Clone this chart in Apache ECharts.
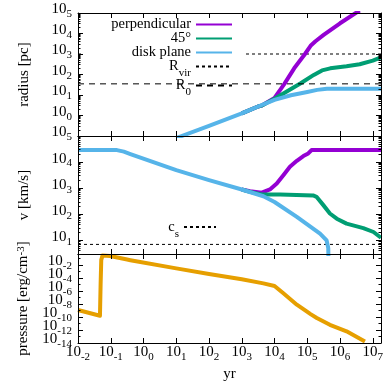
<!DOCTYPE html>
<html><head><meta charset="utf-8">
<script src="https://cdn.jsdelivr.net/npm/echarts@6/dist/echarts.min.js"></script>
<style>html,body{margin:0;padding:0;background:#fff}#c{width:390px;height:390px}</style>
</head><body><div id="c"></div>
<script>
// ---------- data (time in yr) ----------
// radius panel [pc]
const tPerpR  = [1000, 3160, 3980, 1e4, 2e4, 3.98e4, 8.51e4, 1.26e5, 1.78e5, 3.16e5, 1e6, 3.16e6, 3.98e6];
const rPerp   = [1.26, 2.75, 3.02, 7.24, 34.7, 200, 1000, 2510, 4170, 8510, 31600, 105000, 132000];
const tGreenR = [1000, 3160, 3980, 1e4, 2.51e4, 6.31e4, 1.58e5, 2.82e5, 5.01e5, 1.58e6, 3.98e6, 1e7, 1.78e7];
const rGreen  = [1.26, 2.75, 3.02, 6.61, 15.8, 37.2, 95.5, 158, 200, 251, 316, 479, 692];
const tDiskR  = [10, 100, 1000, 3160, 1e4, 3.16e4, 1e5, 2e5, 3.98e5, 1.78e7];
const rDisk   = [0.0794, 0.316, 1.26, 2.75, 5.75, 9.77, 14.1, 17.8, 20.4, 20.4];
const rVir = 1000;
const r0 = 35;
// velocity panel [km/s]
const tPerpV  = [1000, 1780, 4070, 7240, 1.17e4, 1.86e4, 2.95e4, 4.79e4, 7.59e4, 1.07e5, 1.35e5, 1.78e7];
const vPerp   = [891, 767, 676, 891, 1510, 3160, 6610, 11200, 17000, 21400, 28800, 28800];
const tGreenV = [1000, 1780, 4070, 1.48e4, 1.51e5, 1.91e5, 3.09e5, 4.9e5, 7.94e5, 1.58e6, 5.13e6, 1.05e7, 1.78e7];
const vGreen  = [891, 724, 575, 575, 525, 468, 224, 107, 67.6, 43.7, 29.5, 20.9, 12.6];
const tDiskV  = [0.01, 0.155, 0.251, 0.398, 10, 100, 1000, 4570, 1e4, 4.79e4, 2.45e5, 3.89e5, 4.37e5, 4.47e5];
const vDisk   = [28800, 28800, 25100, 20400, 4900, 2040, 891, 490, 295, 79.4, 18.2, 10, 5.01, 1];
const cs = 7;
// pressure panel [erg/cm^-3]
const tPres = [0.01, 0.0468, 0.049, 0.0513, 0.056, 0.0603, 0.0955, 0.316, 0.398, 10, 100, 1000, 4570, 1e4, 1.86e4, 4.79e4, 9.55e4, 1.26e5, 1.95e5, 4.9e5, 1.58e6, 5.75e6];
const pres  = [1.2e-9, 1.58e-10, 1e-5, 0.063, 0.282, 0.347, 0.24, 0.0708, 0.0562, 3.09e-3, 4.17e-4, 6.31e-5, 1.51e-5, 5.89e-6, 4.47e-7, 7.94e-9, 7.24e-10, 2.82e-10, 7.08e-11, 6.31e-12, 6.31e-13, 1.74e-14];
// axis tick exponents
const xTickExp = [-2, -1, 0, 1, 2, 3, 4, 5, 6, 7];
const rTickExp = [-1, 0, 1, 2, 3, 4, 5];
const rLabelExp = [0, 1, 2, 3, 4, 5];
const vTickExp = [1, 2, 3, 4, 5];
const pTickExp = [-14, -12, -10, -8, -6, -4, -2, 0];
const pLabelExpA = [-14, -10, -6, -2];
const pLabelExpB = [-12, -8, -4];

const XMIN = 0.01, XMAX = 1.78e7;
const FONT = 'Liberation Serif';
const C_PERP = '#9400d3', C_45 = '#009e73', C_DISK = '#56b4e9', C_P = '#e69f00';

function pairs(t, v) { return t.map((x, i) => [x, v[i]]); }
function logMinor(lo, hi) {
  const out = [];
  for (let n = Math.floor(lo); n < hi; n++) for (let k = 2; k <= 9; k++) out.push(n + Math.log10(k));
  return out;
}
function oddMinor(lo, hi) { const o = []; for (let n = lo; n <= hi; n++) if (n % 2 !== 0) o.push(n); return o; }

const labRich = {
  b: { fontFamily: FONT, fontSize: 15, color: '#000', lineHeight: 8, padding: [2, 0, 0, 0], verticalAlign: 'bottom' },
  s: { fontFamily: FONT, fontSize: 11, color: '#000', lineHeight: 6, padding: [0, 0, 0, 0], verticalAlign: 'top' }
};
const expFmt = v => '{b|10}{s|' + Math.round(v) + '}';

const panels = [
  { top: 12, height: 124, ymin: 0.1, ymax: 1e5, ticks: rTickExp, labels: rLabelExp, labels2: null, minor: logMinor(-1, 5), name: 'radius [pc]' },
  { top: 136, height: 118, ymin: 3, ymax: 1e5, ticks: vTickExp, labels: vTickExp, labels2: null, minor: logMinor(0, 5), name: 'v [km/s]' },
  { top: 254, height: 89, ymin: 1e-14, ymax: 0.5, ticks: pTickExp, labels: pLabelExpA, labels2: pLabelExpB, minor: oddMinor(-14, 0), name: 'pressure [erg/cm{s|-3}]' }
];

const grid = [], xAxis = [], yAxis = [];
const tickLine = { color: '#000', width: 1 };
const noLine = { show: false, onZero: false };
const lblCommon = { formatter: expFmt, rich: labRich, showMinLabel: true, showMaxLabel: true, hideOverlap: false };
panels.forEach((p, i) => {
  grid.push({ left: 78, right: 9, top: p.top, height: p.height, containLabel: false });
  const xlo = Math.log10(XMIN), xhi = Math.log10(XMAX);
  xAxis.push({ type: 'log', gridIndex: i, min: XMIN, max: XMAX, show: false });
  xAxis.push({ type: 'value', gridIndex: i, position: 'bottom', min: xlo, max: xhi, z: 6,
    axisLine: { show: true, onZero: false, lineStyle: tickLine },
    axisTick: { show: true, inside: true, length: 5, customValues: xTickExp, lineStyle: tickLine },
    axisLabel: Object.assign({ show: i === 2, customValues: xTickExp, margin: 9 }, lblCommon),
    splitLine: { show: false },
    name: i === 2 ? 'yr' : '', nameLocation: 'middle', nameGap: 24,
    nameTextStyle: { fontFamily: FONT, fontSize: 15, color: '#000' } });
  xAxis.push({ type: 'value', gridIndex: i, position: 'top', min: xlo, max: xhi, z: 6,
    axisLine: { show: true, onZero: false, lineStyle: tickLine },
    axisTick: { show: true, inside: true, length: 5, customValues: xTickExp, lineStyle: tickLine },
    axisLabel: { show: false }, splitLine: { show: false } });

  const ylo = Math.log10(p.ymin), yhi = Math.log10(p.ymax);
  yAxis.push({ type: 'log', gridIndex: i, min: p.ymin, max: p.ymax, show: false });
  yAxis.push({ type: 'value', gridIndex: i, position: 'left', min: ylo, max: yhi, z: 6,
    axisLine: { show: true, onZero: false, lineStyle: tickLine },
    axisTick: { show: true, inside: true, length: 5, customValues: p.ticks, lineStyle: tickLine },
    axisLabel: Object.assign({ show: true, customValues: p.labels, margin: 6 }, lblCommon),
    splitLine: { show: false },
    name: p.name, nameLocation: 'middle', nameGap: 46, nameRotate: 90,
    nameTextStyle: { fontFamily: FONT, fontSize: 15, color: '#000', lineHeight: 16,
      rich: { s: { fontFamily: FONT, fontSize: 11, color: '#000', lineHeight: 6, verticalAlign: 'top' } } } });
  yAxis.push({ type: 'value', gridIndex: i, position: 'left', min: ylo, max: yhi, z: 6,
    axisLine: noLine,
    axisTick: { show: true, inside: true, length: 2.5, customValues: p.minor, lineStyle: tickLine },
    axisLabel: p.labels2 ? Object.assign({ show: true, customValues: p.labels2, margin: 6 }, lblCommon) : { show: false },
    splitLine: { show: false } });
  yAxis.push({ type: 'value', gridIndex: i, position: 'right', min: ylo, max: yhi, z: 6,
    axisLine: { show: true, onZero: false, lineStyle: tickLine },
    axisTick: { show: true, inside: true, length: 5, customValues: p.ticks, lineStyle: tickLine },
    axisLabel: { show: false }, splitLine: { show: false } });
  yAxis.push({ type: 'value', gridIndex: i, position: 'right', min: ylo, max: yhi, z: 6,
    axisLine: noLine,
    axisTick: { show: true, inside: true, length: 2.5, customValues: p.minor, lineStyle: tickLine },
    axisLabel: { show: false }, splitLine: { show: false } });
});

function line(name, panel, data, color, width, type, z) {
  return { name, type: 'line', xAxisIndex: panel * 3, yAxisIndex: panel * 5, data,
    symbol: 'none', showSymbol: false, clip: true, z: z || 2,
    lineStyle: { color, width, type: type || 'solid', join: 'round' }, itemStyle: { color } };
}

const series = [
  line('perpendicular', 0, pairs(tPerpR, rPerp), C_PERP, 4),
  line('45°', 0, pairs(tGreenR, rGreen), C_45, 4),
  line('disk plane', 0, pairs(tDiskR, rDisk), C_DISK, 4),
  line('Rvir', 0, [[XMIN, rVir], [XMAX, rVir]], '#000', 1, [3, 3], 1),
  line('R0', 0, [[XMIN, r0], [XMAX, r0]], '#000', 1, [6, 5], 5),
  line('perpendicular', 1, pairs(tPerpV, vPerp), C_PERP, 4),
  line('45°', 1, pairs(tGreenV, vGreen), C_45, 4),
  line('disk plane', 1, pairs(tDiskV, vDisk), C_DISK, 4),
  line('cs', 1, [[XMIN, cs], [XMAX, cs]], '#000', 1, [3, 3], 1),
  line('pressure', 2, pairs(tPres, pres), C_P, 4)
];

const legRich = { sub: { fontFamily: FONT, fontSize: 11, color: '#000', lineHeight: 5, padding: [8, 0, 0, 0], verticalAlign: 'top' } };
const legFmt = n => n === 'Rvir' ? 'R{sub|vir}' : n === 'R0' ? 'R{sub|0}' : n === 'cs' ? 'c{sub|s}' : n;
const legItem = { color: 'transparent', borderColor: 'transparent', borderWidth: 0 };

const option = {
  animation: false,
  backgroundColor: '#fff',
  grid, xAxis, yAxis, series,
  legend: [
    { data: ['perpendicular', '45°', 'disk plane', 'Rvir', 'R0'], orient: 'vertical', align: 'right',
      right: 147, top: 17, itemWidth: 36, itemHeight: 13, itemGap: -1, padding: [0, 10, 0, 29],
      backgroundColor: '#fff', z: 4, selectedMode: false, formatter: legFmt, itemStyle: legItem,
      textStyle: { fontFamily: FONT, fontSize: 14.5, color: '#000', lineHeight: 13, rich: legRich } },
    { data: ['cs'], orient: 'vertical', align: 'right', right: 173, top: 219.5,
      itemWidth: 32, itemHeight: 13, itemGap: 0, padding: 0, selectedMode: false, formatter: legFmt, itemStyle: legItem,
      textStyle: { fontFamily: FONT, fontSize: 14.5, color: '#000', lineHeight: 13, rich: legRich } }
  ]
};
echarts.init(document.getElementById('c'), null, { renderer: 'canvas' }).setOption(option);
</script>
</body></html>
